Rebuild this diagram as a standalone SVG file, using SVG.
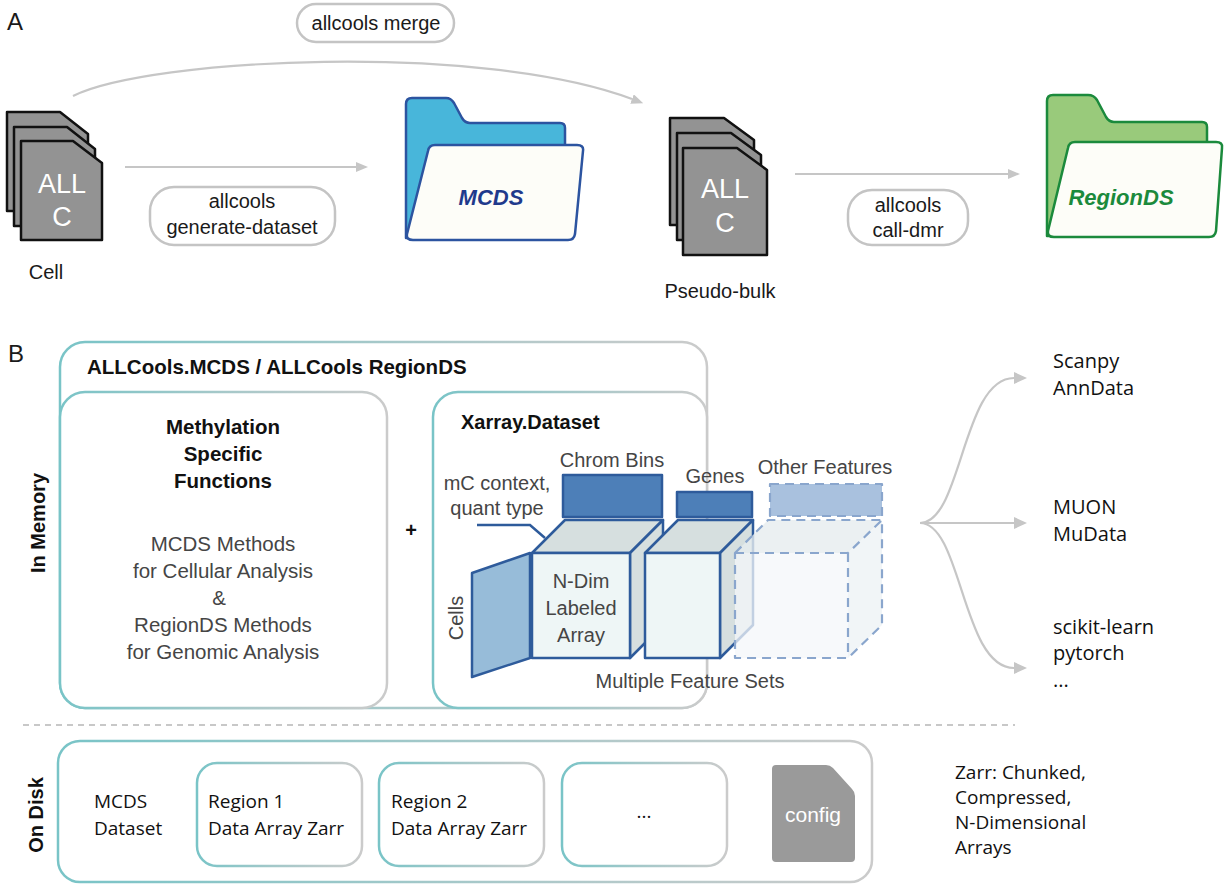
<svg xmlns="http://www.w3.org/2000/svg" width="1225" height="884" viewBox="0 0 1225 884">
  <style>
    .h { font-family: "Liberation Sans", Arial, sans-serif; fill: #1a1a1a; }
    .hb { font-family: "Liberation Sans", Arial, sans-serif; font-weight: bold; fill: #111; }
    .m { font-family: "Open Sans", "Noto Sans", sans-serif; fill: #111; }
    .gray { fill: #454545; }
    .card { fill: #939393; stroke: #111; stroke-width: 2.5; stroke-linejoin: round; }
    .cardtxt { font-family: "Liberation Sans", Arial, sans-serif; fill: #fff; font-size: 27px; text-anchor: middle; }
    .pill { fill: #fff; stroke: #c4c4c4; stroke-width: 2.5; }
    .conn { fill: none; stroke: #c6c6c6; stroke-width: 2.2; }
    .box { fill: #fff; stroke: url(#edge); stroke-width: 2.5; }
    .cube { stroke: #2e5b9b; stroke-width: 2.5; stroke-linejoin: round; }
    .ghost { stroke: #8aa6cd; stroke-width: 2.2; stroke-dasharray: 9 6; stroke-linejoin: round; }
  </style>
  <defs>
    <linearGradient id="edge" x1="0" y1="0" x2="1" y2="0">
      <stop offset="0" stop-color="#79c4c7"/>
      <stop offset="0.45" stop-color="#a2c8c9"/>
      <stop offset="1" stop-color="#cbcbcb"/>
    </linearGradient>
    <marker id="arr" viewBox="0 0 12 10" refX="0" refY="5" markerWidth="12" markerHeight="10" markerUnits="userSpaceOnUse" orient="auto">
      <path d="M0,0 L12,5 L0,10 Z" fill="#c6c6c6"/>
    </marker>
    <marker id="arr2" viewBox="0 0 13 12" refX="0" refY="6" markerWidth="13" markerHeight="12" markerUnits="userSpaceOnUse" orient="auto">
      <path d="M0,0 L13,6 L0,12 Z" fill="#c6c6c6"/>
    </marker>
  </defs>

  <rect width="1225" height="884" fill="#fff"/>

  <!-- panel letters -->
  <text class="h" x="7" y="30" font-size="24">A</text>
  <text class="h" x="8" y="362" font-size="24">B</text>

  <!-- connectors -->
  <g id="connectors">
    <path class="conn" d="M73,96 C150,58 480,42 632,99" marker-end="url(#arr)"/>
    <path class="conn" d="M125,167 L356,167" marker-end="url(#arr)"/>
    <path class="conn" d="M795,174 L1008,174" marker-end="url(#arr)"/>
    <path class="conn" d="M920,523 C962,523 962,378 1014,378" marker-end="url(#arr2)"/>
    <path class="conn" d="M920,523 L1014,523" marker-end="url(#arr2)"/>
    <path class="conn" d="M920,523 C962,523 962,668 1014,668" marker-end="url(#arr2)"/>
    <line x1="23" y1="725" x2="1015" y2="725" stroke="#c8c8c8" stroke-width="2" stroke-dasharray="6 5"/>
  </g>

  <!-- command labels -->
  <g id="merge-label">
    <rect class="pill" x="297" y="4" width="157" height="38" rx="19"/>
    <text class="h" x="376" y="30" font-size="20" text-anchor="middle">allcools merge</text>
  </g>
  <g id="generate-label">
    <rect class="pill" x="150" y="187" width="185" height="58" rx="24"/>
    <text class="h" x="242" y="208" font-size="20" text-anchor="middle">allcools</text>
    <text class="h" x="242" y="234" font-size="20" text-anchor="middle">generate-dataset</text>
  </g>
  <g id="dmr-label">
    <rect class="pill" x="848" y="190" width="120" height="55" rx="24"/>
    <text class="h" x="908" y="212" font-size="20" text-anchor="middle">allcools</text>
    <text class="h" x="908" y="237" font-size="20" text-anchor="middle">call-dmr</text>
  </g>

  <!-- single-cell ALLC files -->
  <g id="cell">
    <path class="card" d="M7,112 L60,112 L88,134 L88,211 L7,211 Z"/>
    <path class="card" d="M14,127 L67,127 L95,149 L95,226 L14,226 Z"/>
    <path class="card" d="M21,141 L73,141 L102,163 L102,240 L21,240 Z"/>
    <text class="cardtxt" x="62" y="193">ALL</text>
    <text class="cardtxt" x="62" y="226">C</text>
    <text class="h" x="46" y="279" font-size="20" text-anchor="middle">Cell</text>
  </g>

  <!-- MCDS folder -->
  <g id="mcds">
    <path d="M406,104 Q406,98 412,98 L446,98 Q451,98 454,103 L462,118 Q465,123 470,123 L560,123 Q565,123 565,128 L565,238 L406,238 Z" fill="#48b6da" stroke="#2c54a0" stroke-width="2.5" stroke-linejoin="round"/>
    <path d="M428,151 Q429,145 435,145 L577,145 Q584,145 583,151 L575,234 Q574,240 568,240 L413,240 Q406,240 407,234 Z" fill="#fdfdf8" stroke="#2c54a0" stroke-width="2.5"/>
    <text class="hb" x="491" y="205" font-size="22" font-style="italic" text-anchor="middle" fill="#1f3a8c" style="fill:#1f3a8c">MCDS</text>
  </g>

  <!-- pseudo-bulk ALLC files -->
  <g id="pseudo-bulk">
    <path class="card" d="M670,118 L724,118 L754,140 L754,225 L670,225 Z"/>
    <path class="card" d="M677,133 L731,133 L761,155 L761,240 L677,240 Z"/>
    <path class="card" d="M683,148 L737,148 L767,170 L767,255 L683,255 Z"/>
    <text class="cardtxt" x="725" y="198">ALL</text>
    <text class="cardtxt" x="725" y="232">C</text>
    <text class="h" x="720" y="298" font-size="20" text-anchor="middle">Pseudo-bulk</text>
  </g>

  <!-- RegionDS folder -->
  <g id="regionds">
    <path d="M1047,101 Q1047,95 1053,95 L1088,95 Q1094,95 1097,100 L1106,117 Q1109,122 1114,122 L1202,122 Q1207,122 1207,127 L1207,236 L1047,236 Z" fill="#99ca7b" stroke="#1b8a3c" stroke-width="2.5" stroke-linejoin="round"/>
    <path d="M1068,148 Q1069,142 1075,142 L1216,142 Q1223,142 1222,148 L1216,231 Q1215,237 1209,237 L1054,237 Q1047,237 1048,231 Z" fill="#fdfdf8" stroke="#1b8a3c" stroke-width="2.5"/>
    <text class="hb" x="1121" y="205" font-size="22" font-style="italic" text-anchor="middle" style="fill:#1b8a3c">RegionDS</text>
  </g>

  <!-- in-memory objects -->
  <g id="in-memory">
    <rect class="box" x="60" y="342" width="647" height="366" rx="25"/>
    <text class="hb" x="87" y="374" font-size="20.5">ALLCools.MCDS / ALLCools RegionDS</text>
    <text class="hb" x="0" y="0" font-size="20" text-anchor="middle" transform="translate(45,523) rotate(-90)">In Memory</text>
  </g>

  <g id="methylation-functions">
    <rect class="box" x="60" y="392" width="327" height="316" rx="25"/>
    <text class="hb" x="223" y="434" font-size="20.5" text-anchor="middle">Methylation</text>
    <text class="hb" x="223" y="461" font-size="20.5" text-anchor="middle">Specific</text>
    <text class="hb" x="223" y="488" font-size="20.5" text-anchor="middle">Functions</text>
    <text class="h gray" x="223" y="551" font-size="20.5" text-anchor="middle">MCDS Methods</text>
    <text class="h gray" x="223" y="578" font-size="20.5" text-anchor="middle">for Cellular Analysis</text>
    <text class="h gray" x="219" y="605" font-size="20.5" text-anchor="middle">&amp;</text>
    <text class="h gray" x="223" y="632" font-size="20.5" text-anchor="middle">RegionDS Methods</text>
    <text class="h gray" x="223" y="659" font-size="20.5" text-anchor="middle">for Genomic Analysis</text>
  </g>

  <text class="hb" x="411" y="537" font-size="20" text-anchor="middle">+</text>

  <g id="xarray-dataset">
    <rect class="box" x="433" y="392" width="274" height="316" rx="25"/>
    <text class="hb" x="461" y="429" font-size="20">Xarray.Dataset</text>

    <!-- coordinate labels -->
    <text class="h gray" x="612" y="467" font-size="20" text-anchor="middle">Chrom Bins</text>
    <text class="h gray" x="715" y="483" font-size="20" text-anchor="middle">Genes</text>
    <text class="h gray" x="825" y="474" font-size="20" text-anchor="middle">Other Features</text>
    <text class="h gray" x="497" y="490" font-size="20" text-anchor="middle">mC context,</text>
    <text class="h gray" x="497" y="515" font-size="20" text-anchor="middle">quant type</text>
    <path d="M477,525 L530,525 L545,538" fill="none" stroke="#2e5b9b" stroke-width="2.5"/>

    <rect class="cube" x="563" y="475" width="99" height="42" fill="#4d7fb8"/>
    <rect class="cube" x="677" y="492" width="75" height="25" fill="#4d7fb8"/>

    <!-- cells axis -->
    <path class="cube" d="M472,573 L530,553 L530,658 L472,677 Z" fill="#97bcd9"/>
    <text class="h gray" x="0" y="0" font-size="20" text-anchor="middle" transform="translate(463,618) rotate(-90)">Cells</text>

    <!-- chrom-bin array -->
    <path class="cube" d="M532,553 L565,520 L663,520 L630,553 Z" fill="#d6dfdf"/>
    <path class="cube" d="M630,553 L663,520 L663,625 L630,658 Z" fill="#d6dfdf"/>
    <rect class="cube" x="532" y="553" width="98" height="105" fill="#eef6f6"/>
    <text class="h gray" x="581" y="588" font-size="20" text-anchor="middle">N-Dim</text>
    <text class="h gray" x="581" y="615" font-size="20" text-anchor="middle">Labeled</text>
    <text class="h gray" x="581" y="642" font-size="20" text-anchor="middle">Array</text>

    <!-- gene array -->
    <path class="cube" d="M645,553 L678,520 L753,520 L720,553 Z" fill="#d6dfdf"/>
    <path class="cube" d="M720,553 L753,520 L753,625 L720,658 Z" fill="#d6dfdf"/>
    <rect class="cube" x="645" y="553" width="75" height="105" fill="#eef6f6"/>

    <!-- further feature arrays -->
    <rect class="ghost" x="770" y="484" width="112" height="32" fill="#a9c1de"/>
    <path d="M735,553 L768,520 L882,520 L848,553 Z" fill="#e6ecef" fill-opacity="0.8"/>
    <path d="M848,553 L882,520 L882,625 L848,658 Z" fill="#eef2f5" fill-opacity="0.8"/>
    <rect x="735" y="553" width="113" height="105" fill="#f4f7fa" fill-opacity="0.75"/>
    <path class="ghost" d="M735,553 L768,520 L882,520 L882,625 L848,658 L735,658 Z M735,553 L848,553 L882,520 M848,553 L848,658" fill="none"/>

    <text class="h gray" x="690" y="688" font-size="20" text-anchor="middle">Multiple Feature Sets</text>
  </g>

  <!-- downstream tools -->
  <g id="tools">
    <text class="m" x="1053" y="368" font-size="20">Scanpy</text>
    <text class="m" x="1053" y="395" font-size="20">AnnData</text>
    <text class="m" x="1053" y="514" font-size="20">MUON</text>
    <text class="m" x="1053" y="541" font-size="20">MuData</text>
    <text class="m" x="1053" y="634" font-size="20">scikit-learn</text>
    <text class="m" x="1053" y="660" font-size="20">pytorch</text>
    <text class="m" x="1053" y="687" font-size="20">...</text>
  </g>

  <!-- on-disk layout -->
  <g id="on-disk">
    <rect class="box" x="58" y="741" width="814" height="141" rx="22"/>
    <text class="hb" x="0" y="0" font-size="20" text-anchor="middle" transform="translate(43,815) rotate(-90)">On Disk</text>
    <text class="m" x="94" y="808" font-size="19">MCDS</text>
    <text class="m" x="94" y="835" font-size="19">Dataset</text>
  </g>
  <g id="region1">
    <rect class="box" x="197" y="763" width="165" height="103" rx="20"/>
    <text class="m" x="208" y="808" font-size="19">Region 1</text>
    <text class="m" x="208" y="835" font-size="19">Data Array Zarr</text>
  </g>
  <g id="region2">
    <rect class="box" x="379" y="763" width="165" height="103" rx="20"/>
    <text class="m" x="391" y="808" font-size="19">Region 2</text>
    <text class="m" x="391" y="835" font-size="19">Data Array Zarr</text>
  </g>
  <g id="region-more">
    <rect class="box" x="562" y="763" width="165" height="103" rx="20"/>
    <text class="m" x="644" y="818" font-size="19" text-anchor="middle">...</text>
  </g>
  <g id="config">
    <path d="M776,765 L826,765 Q830,765 833,768 L852,789 Q855,792 855,796 L855,858 Q855,862 851,862 L776,862 Q772,862 772,858 L772,769 Q772,765 776,765 Z" fill="#9a9a9a"/>
    <text class="h" x="813" y="822" font-size="21" text-anchor="middle" style="fill:#fff">config</text>
  </g>
  <g id="zarr-note">
    <text class="m" x="955" y="779" font-size="19">Zarr: Chunked,</text>
    <text class="m" x="955" y="804" font-size="19">Compressed,</text>
    <text class="m" x="955" y="829" font-size="19">N-Dimensional</text>
    <text class="m" x="955" y="854" font-size="19">Arrays</text>
  </g>
</svg>
